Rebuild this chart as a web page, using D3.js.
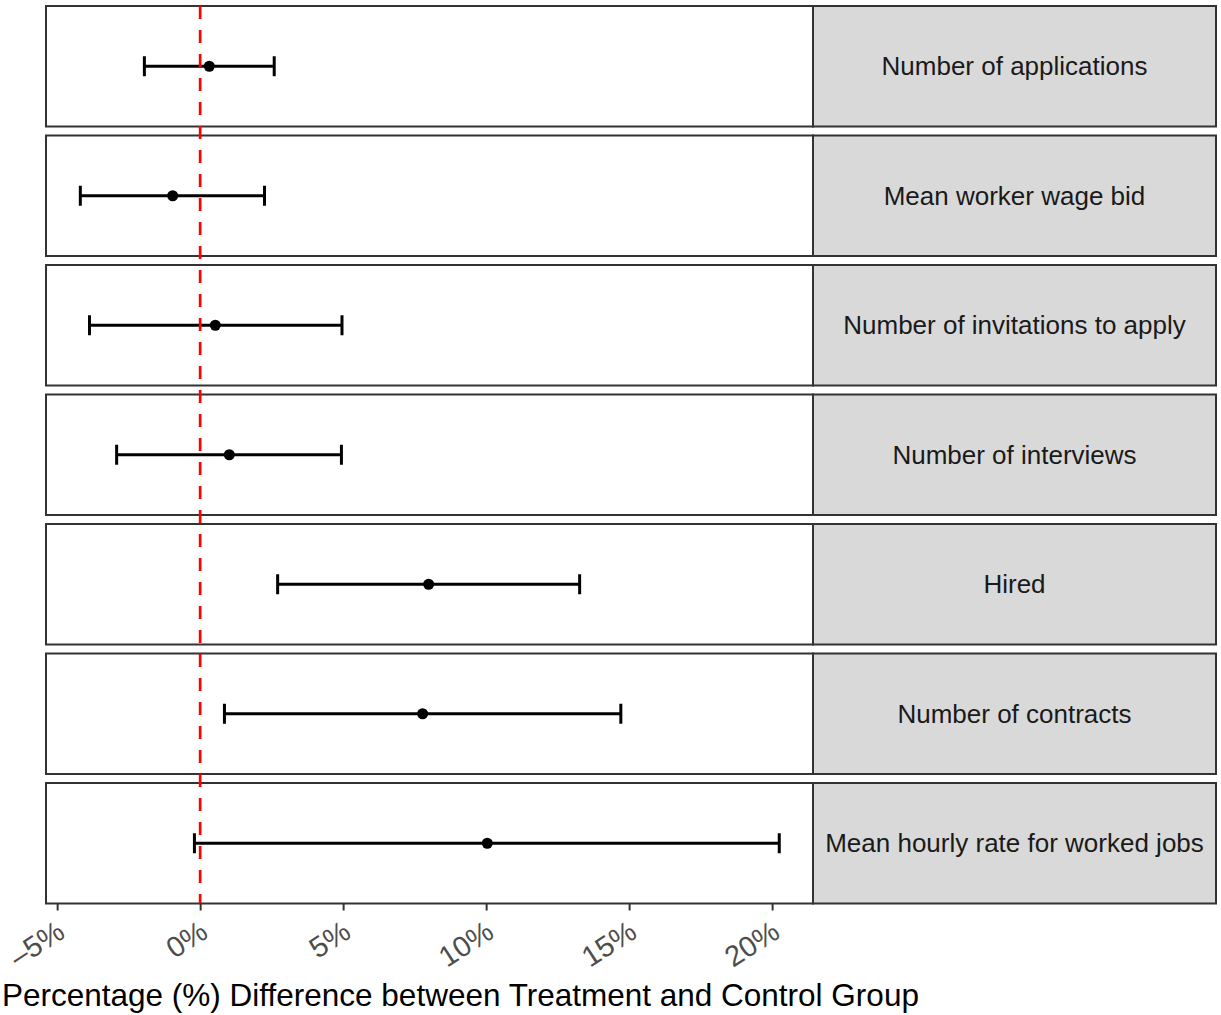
<!doctype html>
<html>
  <head>
    <script src="https://cdn.jsdelivr.net/npm/d3@7"></script>
    <style>
      body {
          margin: 0;
          background: #fff;
          font-family: "Liberation Sans", Arial, sans-serif;
      }
      .strip-label {
          fill: #1a1a1a;
          font-size: 26px;
          text-anchor: middle;
      }
      .x.axis text {
          fill: #4d4d4d;
          font-size: 29px;
      }
      .x.axis line {
          stroke: #333;
          stroke-width: 2;
      }
      .x-title {
          font-size: 31.5px;
          fill: #000;
      }
    </style>
  </head>
  <body>
    <script type="text/javascript">
        // data (percentage difference)
        var outcomes = ["Number of applications", "Mean worker wage bid", "Number of invitations to apply",
                        "Number of interviews", "Hired", "Number of contracts", "Mean hourly rate for worked jobs"];
        var estimate = [0.32, -0.96, 0.53, 1.02, 7.99, 7.78, 10.04];
        var lower    = [-1.95, -4.19, -3.87, -2.92, 2.71, 0.85, -0.20];
        var upper    = [2.59, 2.25, 4.96, 4.94, 13.27, 14.71, 20.25];
        var xTicks   = [-5, 0, 5, 10, 15, 20];

        var data = outcomes.map(function(d, i) {
            return {name: d, est: estimate[i], lo: lower[i], hi: upper[i]};
        });

        var W = 1221, H = 1015;
        var left = 46, plotRight = 813, stripRight = 1216;
        var plotTop = 6, panelH = 120.5, gap = 9;

        var svg = d3.select("body").append("svg")
            .attr("width", W)
            .attr("height", H);

        var x = d3.scaleLinear()
            .domain([-5.39, 21.43])
            .range([left, plotRight]);

        var y = d3.scaleBand()
            .domain(outcomes)
            .range([plotTop, plotTop + 7 * panelH + 6 * gap])
            .paddingInner(gap / (panelH + gap));

        var panel = svg.selectAll(".panel")
            .data(data)
            .enter().append("g")
            .attr("class", "panel")
            .attr("transform", d => `translate(0,${y(d.name)})`);

        // panel background + border
        panel.append("rect")
            .attr("x", left)
            .attr("y", 0)
            .attr("width", plotRight - left)
            .attr("height", y.bandwidth())
            .attr("fill", "#fff")
            .attr("stroke", "#333")
            .attr("stroke-width", 2);

        // strip
        panel.append("rect")
            .attr("x", plotRight)
            .attr("y", 0)
            .attr("width", stripRight - plotRight)
            .attr("height", y.bandwidth())
            .attr("fill", "#d9d9d9")
            .attr("stroke", "#333")
            .attr("stroke-width", 2);

        panel.append("text")
            .attr("class", "strip-label")
            .attr("x", (plotRight + stripRight) / 2)
            .attr("y", y.bandwidth() / 2)
            .attr("dy", "0.35em")
            .text(d => d.name);

        // zero reference line
        svg.append("line")
            .attr("x1", x(0)).attr("x2", x(0))
            .attr("y1", plotTop).attr("y2", y.range()[1])
            .attr("stroke", "#ff0000")
            .attr("stroke-width", 2.7)
            .attr("stroke-dasharray", "13,11");

        // error bars
        var mid = y.bandwidth() / 2;
        panel.append("line")
            .attr("x1", d => x(d.lo)).attr("x2", d => x(d.hi))
            .attr("y1", mid).attr("y2", mid)
            .attr("stroke", "#000")
            .attr("stroke-width", 3);

        ["lo", "hi"].forEach(function(k) {
            panel.append("line")
                .attr("x1", d => x(d[k])).attr("x2", d => x(d[k]))
                .attr("y1", mid - 10).attr("y2", mid + 10)
                .attr("stroke", "#000")
                .attr("stroke-width", 3);
        });

        panel.append("circle")
            .attr("cx", d => x(d.est))
            .attr("cy", mid)
            .attr("r", 5.5)
            .attr("fill", "#000");

        // x axis
        var axisY = y.range()[1];
        var xAxis = d3.axisBottom(x)
            .tickValues(xTicks)
            .tickSize(7)
            .tickFormat(d => d + "%");

        var gx = svg.append("g")
            .attr("class", "x axis")
            .attr("transform", `translate(0,${axisY})`)
            .call(xAxis);
        gx.select(".domain").remove();
        gx.selectAll(".tick text")
            .attr("text-anchor", "end")
            .attr("x", 0).attr("y", 0).attr("dy", 0)
            .attr("transform", "translate(9,33) rotate(-33)")
            .text(d => (d < 0 ? "\u2013" + Math.abs(d) : d) + "%");

        svg.append("text")
            .attr("class", "x-title")
            .attr("x", 2)
            .attr("y", 1006)
            .text("Percentage (%) Difference between Treatment and Control Group");
    </script>
  </body>
</html>
